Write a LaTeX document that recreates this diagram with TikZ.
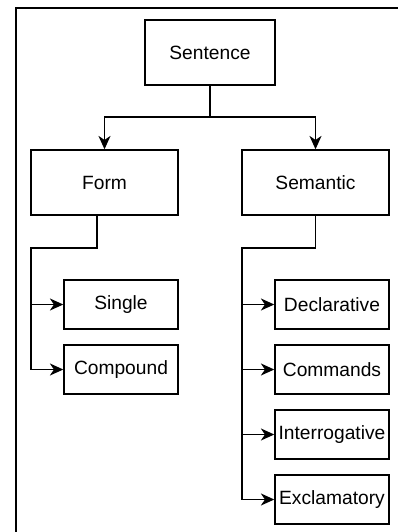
\documentclass[tikz,border=0pt]{standalone}
\usepackage{fontspec}
\setmainfont{Liberation Sans}
\usetikzlibrary{arrows.meta}
\begin{document}
\begin{tikzpicture}[x=0.75pt,y=-0.75pt,
  box/.style={draw, line width=1.1pt, inner sep=0pt, minimum height=36.75pt, minimum width=85.5pt,
    font=\fontsize{14.4pt}{17pt}\selectfont},
  bigbox/.style={box, minimum height=48.75pt, minimum width=110.25pt},
  conn/.style={line width=1.1pt},
  arr/.style={conn, -{Stealth[length=10pt, width=9pt, inset=3pt]}}]
\useasboundingbox (0,0) rectangle (398,532);
\draw[line width=1.8pt] (16,532) -- (16,8) -- (398,8);

\node[box, minimum width=97.5pt, minimum height=48.75pt] (sent) at (210,52.5) {Sentence};
\node[bigbox] (form) at (104.5,182.5) {Form};
\node[bigbox] (sem) at (315.5,182.5) {Semantic};
\node[box] (single) at (121,304.5) {Single};
\node[box] (comp) at (121,369.5) {Compound};
\node[box] (decl) at (332,304.5) {Declarative};
\node[box] (cmd) at (332,369.5) {Commands};
\node[box] (inter) at (332,434.5) {Interrogative};
\node[box] (excl) at (332,499.5) {Exclamatory};

% Sentence branches
\coordinate (sj) at (210,117);
\draw[conn] (sent.south) -- (sj);
\draw[arr] (sj) -| (form.north);
\draw[arr] (sj) -| (sem.north);

% Form branches
\coordinate (fd) at (97,215);
\coordinate (fa) at (97,248);
\coordinate (fb) at (31,248);
\draw[arr] (fd) -- (fa) -- (fb) |- (comp.west);
\draw[arr] (fb) |- (single.west);

% Semantic branches
\coordinate (sa) at (315.5,248);
\coordinate (sb) at (242,248);
\draw[arr] (sem.south) -- (sa) -- (sb) |- (excl.west);
\draw[arr] (sb) |- (decl.west);
\draw[arr] (sb) |- (cmd.west);
\draw[arr] (sb) |- (inter.west);
\end{tikzpicture}
\end{document}
